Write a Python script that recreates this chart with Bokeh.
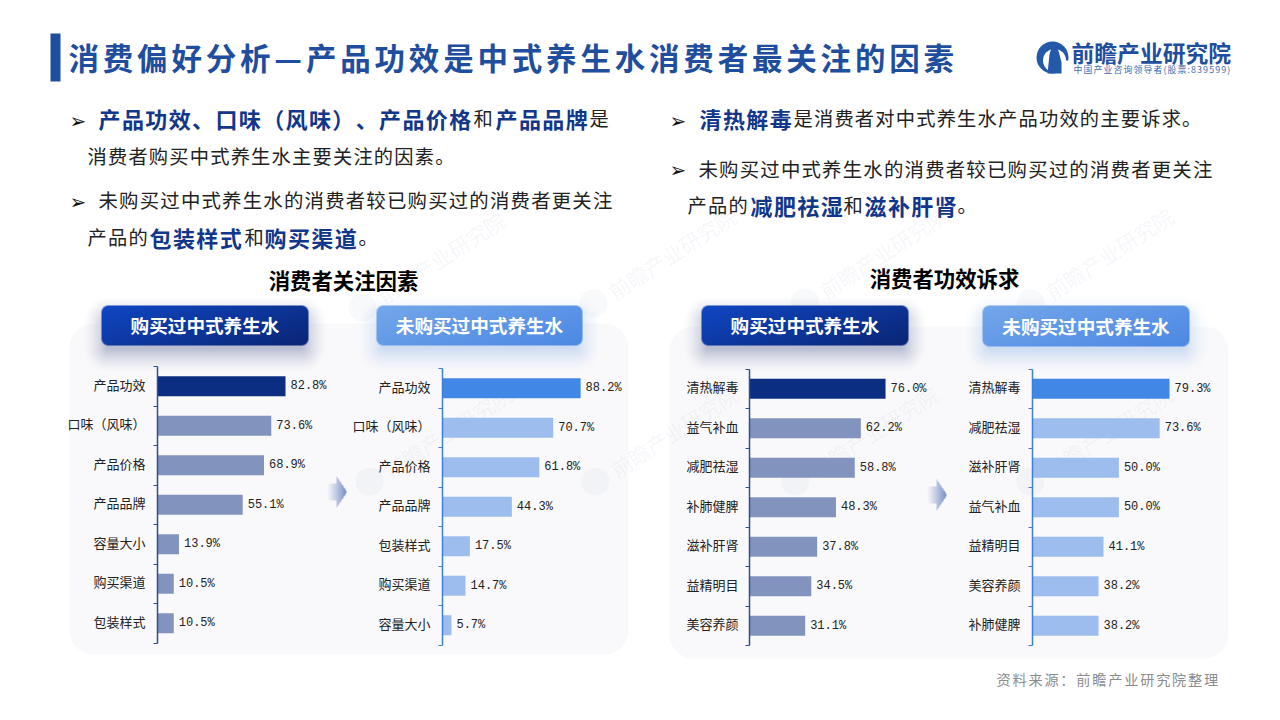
import numpy as np
from bokeh.plotting import figure
from bokeh.models import Range1d, LinearAxis, FixedTicker
from bokeh.core.properties import value
from bokeh.embed import file_html
from bokeh.resources import INLINE

# ---------- data ----------
title_text = "消费偏好分析—产品功效是中式养生水消费者最关注的因素"
left_title = "消费者关注因素"
right_title = "消费者功效诉求"
group_bought = "购买过中式养生水"
group_not = "未购买过中式养生水"
source_text = "资料来源：前瞻产业研究院整理"

p1_cats = ["产品功效", "口味（风味）", "产品价格", "产品品牌", "容量大小", "购买渠道", "包装样式"]
p1_vals = [82.8, 73.6, 68.9, 55.1, 13.9, 10.5, 10.5]
p2_cats = ["产品功效", "口味（风味）", "产品价格", "产品品牌", "包装样式", "购买渠道", "容量大小"]
p2_vals = [88.2, 70.7, 61.8, 44.3, 17.5, 14.7, 5.7]
p3_cats = ["清热解毒", "益气补血", "减肥祛湿", "补肺健脾", "滋补肝肾", "益精明目", "美容养颜"]
p3_vals = [76.0, 62.2, 58.8, 48.3, 37.8, 34.5, 31.1]
p4_cats = ["清热解毒", "减肥祛湿", "滋补肝肾", "益气补血", "益精明目", "美容养颜", "补肺健脾"]
p4_vals = [79.3, 73.6, 50.0, 50.0, 41.1, 38.2, 38.2]

# ---------- style ----------
SANS = "Noto Sans CJK SC"
BLUE = "#1f4e9e"
NAVY = "#12368a"
INK = "#222222"

W, H = 1272, 712
X0, Y0 = 0, 0
p = figure(width=W, height=H, x_range=Range1d(X0, X0 + W), y_range=Range1d(Y0 + H, Y0),
           x_axis_type=None, y_axis_type=None, toolbar_location=None, output_backend="svg",
           min_border=0, outline_line_color=None, background_fill_color="white",
           border_fill_color="white")
p.grid.visible = False


def hs(s, n=1):
    return ("\u200a" * n).join(s)


def txt(x, y, s, size, color=INK, bold=False, align="left", spaced=0, angle=0, alpha=1.0,
        font=SANS):
    p.text(x=[x], y=[y], text=[hs(s, spaced) if spaced else s], text_font=value(font),
           text_font_size=f"{size}px", text_color=color, text_alpha=alpha,
           text_font_style="bold" if bold else "normal", text_align=align,
           text_baseline="middle", angle=angle, angle_units="deg")


def sdf(w, h, r, pad):
    ys, xs = np.mgrid[0:h + 2 * pad, 0:w + 2 * pad]
    qx = np.abs(xs + .5 - (w + 2 * pad) / 2) - (w / 2 - r)
    qy = np.abs(ys + .5 - (h + 2 * pad) / 2) - (h / 2 - r)
    return np.hypot(np.maximum(qx, 0), np.maximum(qy, 0)) + np.minimum(np.maximum(qx, qy), 0) - r


def put_rgba(x, y, rgb, alpha):
    h, w = alpha.shape
    arr = np.zeros((h, w, 4), dtype=np.uint8)
    arr[..., 0], arr[..., 1], arr[..., 2] = rgb
    arr[..., 3] = np.clip(alpha * 255, 0, 255).astype(np.uint8)
    img = arr.view(np.uint32).reshape(h, w)
    p.image_rgba(image=[img], x=[x], y=[y], dw=[w], dh=[h])


def pill(x0, y0, x1, y1, c0, c1, shadow, shadow_a, text):
    w, h = x1 - x0, y1 - y0
    pad = 30
    d = sdf(w, h, 7, pad)
    a = np.clip(1 - (d + 6) / 26, 0, 1) ** 1.6 * shadow_a
    put_rgba(x0 - pad, y0 - pad + 9, shadow, a)
    d = sdf(w, h, 7, 0)
    ys, xs = np.mgrid[0:h, 0:w]
    t = (xs / w * .6 + ys / h * .4)
    arr = np.zeros((h, w, 4), dtype=np.uint8)
    for k in range(3):
        arr[..., k] = (c0[k] * (1 - t) + c1[k] * t).astype(np.uint8)
    arr[..., 3] = (np.clip(.5 - d, 0, 1) * 255).astype(np.uint8)
    p.image_rgba(image=[arr.view(np.uint32).reshape(h, w)], x=[x0], y=[y0], dw=[w], dh=[h])
    txt((x0 + x1) / 2, (y0 + y1) / 2 - 1, text, 18.6, "white", True, "center")


def arrow(x0, y0, x1, y1, mid):
    w, h = x1 - x0, y1 - y0
    ys, xs = np.mgrid[0:h, 0:w]
    cy = h / 2
    m = mid - x0
    shaft = (xs < m) & (np.abs(ys + .5 - cy) < h * .29)
    head = (xs >= m) & (np.abs(ys + .5 - cy) < (w - xs) / (w - m) * h / 2)
    a = (shaft | head) * np.clip(xs / (w * .9), 0, 1) ** 1.1
    put_rgba(x0, y0, (0x7e, 0x96, 0xc8), a)


def watermark(x, y):
    col = "#9aa8c0"
    p.circle(x=[x], y=[y], radius=14, fill_color=col, fill_alpha=.07, line_color=None)
    p.text(x=[x + 17], y=[y - 10], text=["前瞻产业研究院"], text_font=value(SANS), text_font_size="21px",
           text_color=col, text_alpha=.10, angle=33, angle_units="deg", text_baseline="middle")


# ---------- header ----------
p.quad(left=[50], right=[60], top=[33], bottom=[81], fill_color=BLUE, line_color=None)
txt(68, 56, title_text, 30.5, BLUE, True, spaced=2)

# logo
p.circle(x=[1052], y=[57], radius=16, fill_color="#2359a8", line_color=None)
p.circle(x=[1054], y=[60], radius=11.5, fill_color="white", line_color=None)
p.quad(left=[1056], right=[1069], top=[60], bottom=[74], fill_color="white", line_color=None)
p.patch(x=[1047, 1049, 1051, 1054, 1057, 1059, 1061, 1061, 1047],
        y=[73, 54, 47, 42, 47, 54, 62, 73, 73], fill_color="#2359a8", line_color=None)
txt(1071, 52, "前瞻产业研究院", 22.8, BLUE, True)
txt(1073, 69, "中国产业咨询领导者(股票:839599)", 8.9, "#3f6cb0", False, spaced=2)

# ---------- body text ----------
ARW = "➢"
for bx, by in [(69, 120), (69, 201), (669, 120), (669, 169)]:
    txt(bx, by, ARW, 20, "#111111", font="DejaVu Sans")

BS, RS, RL = 22, 19.25, 19.4
txt(98, 117, "产品功效、口味（风味）、产品价格", BS, NAVY, True, spaced=1)
txt(473, 117, "和", RS, INK)
txt(495, 117, "产品品牌", BS, NAVY, True, spaced=1)
txt(589, 117, "是", RS, INK)
txt(87, 155, "消费者购买中式养生水主要关注的因素。", RS, INK, spaced=1)
txt(98, 199, "未购买过中式养生水的消费者较已购买过的消费者更关注", RL, INK, spaced=1)
txt(87, 236, "产品的", RS, INK, spaced=1)
txt(149, 236, "包装样式", BS, NAVY, True, spaced=1)
txt(244, 236, "和", RS, INK)
txt(264, 236, "购买渠道", BS, NAVY, True, spaced=1)
txt(358, 236, "。", RS, INK)

txt(699, 117, "清热解毒", BS, NAVY, True, spaced=1)
txt(793, 117, "是消费者对中式养生水产品功效的主要诉求。", RS, INK, spaced=1)
txt(698, 168, "未购买过中式养生水的消费者较已购买过的消费者更关注", RL, INK, spaced=1)
txt(687, 204, "产品的", RS, INK, spaced=1)
txt(750, 204, "减肥祛湿", BS, NAVY, True, spaced=1)
txt(843, 204, "和", RS, INK)
txt(864, 204, "滋补肝肾", BS, NAVY, True, spaced=1)
txt(957, 204, "。", RS, INK)

# ---------- panels ----------
p.quad(left=[69, 669], right=[628, 1228], top=[323, 326], bottom=[654, 658], fill_color="#f9f9fb",
       line_color=None, border_radius=24)

for wx, wy in [(362, 307), (593, 303), (369, 481), (595, 481), (804, 302), (795, 481), (1030, 303), (1030, 481)]:
    watermark(wx, wy)

txt(343, 279, left_title, 21.4, "#000000", True, "center")
txt(944, 277, right_title, 21.4, "#000000", True, "center")

DK0, DK1 = (0x10, 0x47, 0xc4), (0x0a, 0x25, 0x74)
LT0, LT1 = (0x74, 0xa7, 0xea), (0x4c, 0x88, 0xe4)
pill(101, 305, 308, 345, DK0, DK1, (0x20, 0x30, 0x70), .30, group_bought)
pill(376, 305, 582, 345, LT0, LT1, (0x6a, 0x9a, 0xe0), .30, group_not)
pill(701, 305, 908, 345, DK0, DK1, (0x20, 0x30, 0x70), .30, group_bought)
pill(982, 305, 1189, 346, LT0, LT1, (0x6a, 0x9a, 0xe0), .30, group_not)

arrow(326, 476, 346, 507, 336)
arrow(926, 479, 946, 510, 936)


# ---------- charts ----------
def chart(name, cats, vals, axis_x, px_per_unit, top, step, lead, rest, axis_color, standoff):
    xr = f"{name}x"
    yr = f"{name}y"
    p.extra_x_ranges[xr] = Range1d((X0 - axis_x) / px_per_unit, (X0 + W - axis_x) / px_per_unit)
    p.extra_y_ranges[yr] = Range1d((Y0 + H - top) / step, (Y0 - top) / step)
    n = len(cats)
    pos = [i + .5 for i in range(n)]
    label_pos = [i + .45 for i in range(n)]
    colors = [lead] + [rest] * (n - 1)
    p.hbar(y=pos, left=0, right=vals, height=20 / step, fill_color=colors, line_color=None,
           x_range_name=xr, y_range_name=yr)
    p.text(x=vals, y=pos, text=[f"{v:.1f}%" for v in vals], x_offset=5, text_baseline="middle",
           text_font=value("Liberation Mono"), text_font_size="12px", text_color=INK,
           x_range_name=xr, y_range_name=yr)
    ax = LinearAxis(x_range_name=xr, y_range_name=yr, fixed_location=0, bounds=(0, n),
                    ticker=FixedTicker(ticks=label_pos, minor_ticks=list(range(n + 1))),
                    major_label_overrides={v: c for v, c in zip(label_pos, cats)},
                    major_tick_line_color=None, major_tick_in=0, major_tick_out=0,
                    minor_tick_in=0, minor_tick_out=4, minor_tick_line_color=axis_color,
                    minor_tick_line_width=1.2, axis_line_color=axis_color, axis_line_width=1.5,
                    major_label_standoff=standoff, major_label_text_font=SANS,
                    major_label_text_font_size="13px", major_label_text_color=INK)
    p.add_layout(ax, "left")


chart("a", p1_cats, p1_vals, 157, 1.546, 366, 39.5, "#0c2e82", "#8293bd", "#2f4f95", 8)
chart("b", p2_cats, p2_vals, 442, 1.566, 368, 39.5, "#4187e5", "#9dbdee", "#3f7fdc", 8)
chart("c", p3_cats, p3_vals, 749, 1.79, 368.5, 39.5, "#0c2e82", "#8293bd", "#2f4f95", 7)
chart("d", p4_cats, p4_vals, 1032, 1.728, 368.5, 39.5, "#4187e5", "#9dbdee", "#3f7fdc", 8)

txt(996, 678, source_text, 14.2, "#8c8c8c", spaced=2)

open("out.html", "w").write(file_html(p, INLINE))
